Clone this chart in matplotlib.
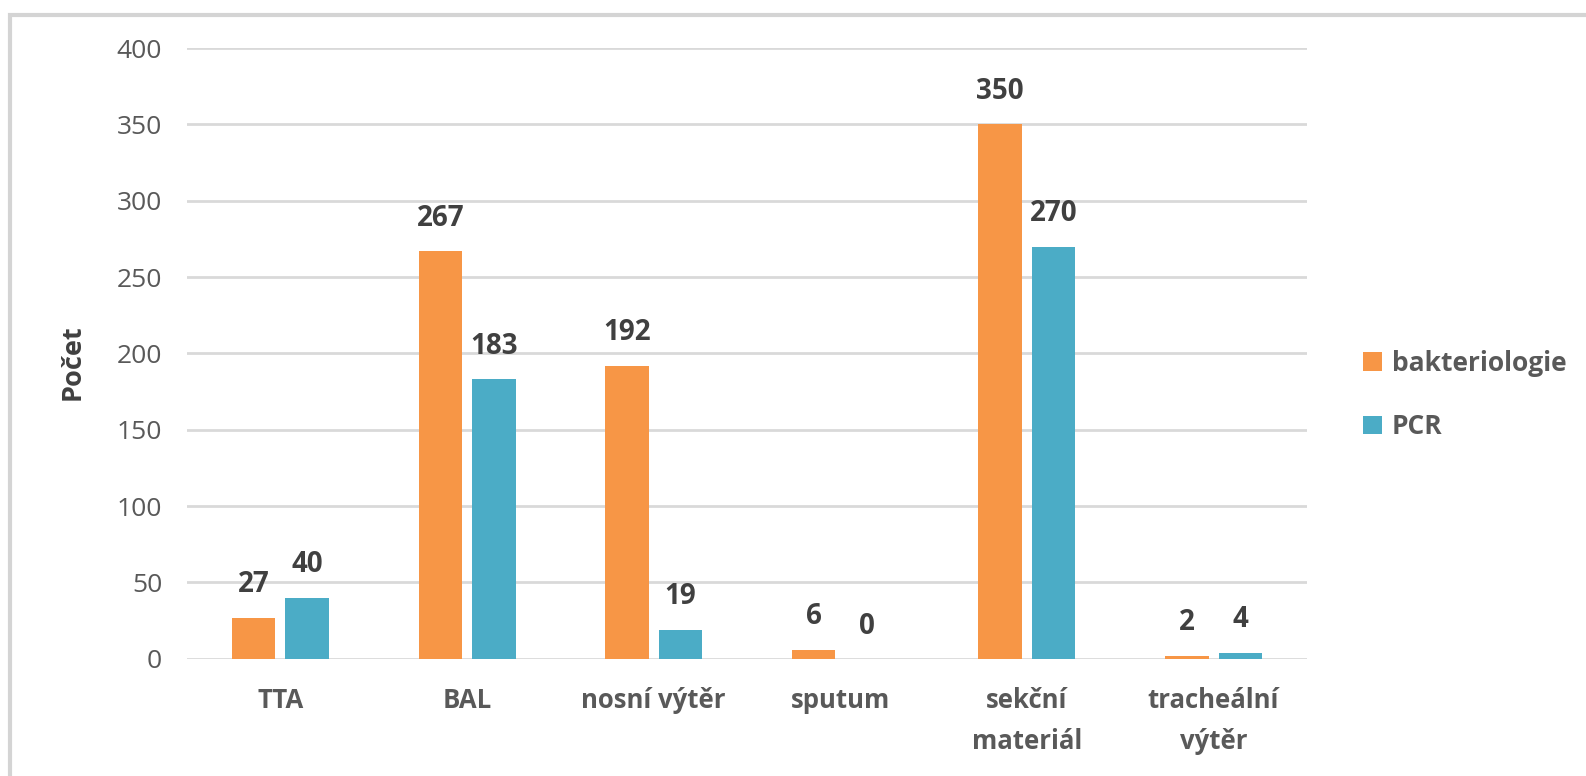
import numpy as np
import matplotlib.pyplot as plt
from matplotlib.patches import Rectangle

plt.rcParams['font.family'] = ['Open Sans', 'DejaVu Sans']

categories = ["TTA", "BAL", "nosní výtěr", "sputum", "sekční\nmateriál", "tracheální\nvýtěr"]
bakteriologie = [27, 267, 192, 6, 350, 2]
pcr = [40, 183, 19, 0, 270, 4]

orange = "#F79646"
blue = "#4BACC6"
grid_c = "#D9D9D9"
text_c = "#595959"
label_c = "#404040"

fig = plt.figure(figsize=(15.86, 7.76), dpi=100)
ax = fig.add_axes([0.118, 0.151, 0.706, 0.787])

# light frame around the chart area
fig.patches.append(Rectangle((10 / 1586, -0.05), 1.1, 1.04 - 7 / 776,
                             transform=fig.transFigure, fill=False,
                             edgecolor="#D4D4D4", linewidth=3))

x = np.arange(len(categories))
w = 0.233
gap = 0.054
off = (w + gap) / 2

b1 = ax.bar(x - off, bakteriologie, w, color=orange, label="bakteriologie", zorder=3)
b2 = ax.bar(x + off, pcr, w, color=blue, label="PCR", zorder=3)

for bars, vals in ((b1, bakteriologie), (b2, pcr)):
    for r, v in zip(bars, vals):
        ax.text(r.get_x() + r.get_width() / 2, v + 12, str(v), ha="center", va="bottom",
                fontsize=20, fontweight="bold", color=label_c)

ax.set_xlim(-0.5, len(categories) - 0.5)
ax.set_ylim(0, 400)
ax.set_yticks(np.arange(0, 401, 50))
ax.yaxis.grid(True, color=grid_c, linewidth=2, zorder=0)
ax.set_axisbelow(True)
for s in ax.spines.values():
    s.set_visible(False)
ax.tick_params(axis="both", length=0)
ax.tick_params(axis="y", labelsize=19, labelcolor=text_c, pad=18)
ax.set_xticks(x)
ax.set_xticklabels(categories, fontsize=18.5, fontweight="bold", color=text_c,
                   linespacing=1.7, va="top")
ax.tick_params(axis="x", pad=20)

ax.set_ylabel("Počet", fontsize=19.5, fontweight="bold", color=label_c)
ax.yaxis.set_label_coords(-0.091, 0.485)

leg = ax.legend(loc="center left", bbox_to_anchor=(1.029, 0.432), frameon=False,
                fontsize=19, handlelength=0.7, handleheight=0.7, handletextpad=0.4,
                labelspacing=1.4)
for t in leg.get_texts():
    t.set_color(text_c)
    t.set_fontweight("bold")

fig.savefig("out.png", dpi=100, facecolor="white")
